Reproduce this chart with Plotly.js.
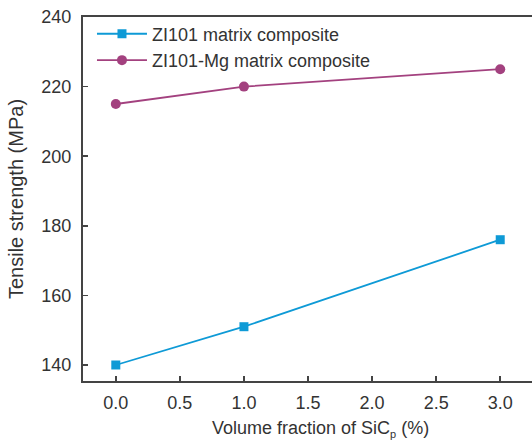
<!DOCTYPE html>
<html><head><meta charset="utf-8">
<script src="https://cdn.plot.ly/plotly-3.0.1.min.js"></script>
<style>body{margin:0;padding:0;}#chart{width:532px;height:442px;}</style>
</head><body><div id="chart"></div>
<script>
const volumeFraction = [0, 1, 3];
const zl101 = [140, 151, 176];
const zl101Mg = [215, 220, 225];
const seriesNames = ["ZI101 matrix composite", "ZI101-Mg matrix composite"];
const xTicks = [0, 0.5, 1, 1.5, 2, 2.5, 3];
const xTickText = ["0.0", "0.5", "1.0", "1.5", "2.0", "2.5", "3.0"];
const yTicks = [140, 160, 180, 200, 220, 240];
const xTitle = "Volume fraction of SiC<sub><span style='font-size:11px'>p</span></sub> (%)";
const yTitle = "Tensile strength (MPa)";

const axisColor = "#444444";
const textColor = "#333333";
const traces = [
  {x: volumeFraction, y: zl101, name: seriesNames[0], mode: "lines+markers",
   line: {color: "#0E9AD6", width: 1.8}, marker: {symbol: "square", size: 9, color: "#0E9AD6"}},
  {x: volumeFraction, y: zl101Mg, name: seriesNames[1], mode: "lines+markers",
   line: {color: "#A3417F", width: 1.8}, marker: {symbol: "circle", size: 10, color: "#A3417F"}}
];
const layout = {
  width: 532, height: 442,
  margin: {l: 83, r: 0, t: 17, b: 61},
  paper_bgcolor: "#fff", plot_bgcolor: "#fff",
  font: {family: "Liberation Sans, Arial, sans-serif", size: 18, color: textColor},
  showlegend: true,
  legend: {x: 0.02, y: 1.004, xanchor: "left", yanchor: "top", bgcolor: "rgba(0,0,0,0)",
           font: {size: 18, color: textColor}, itemwidth: 50, tracegroupgap: 0},
  xaxis: {range: [-0.256, 3.248], tickvals: xTicks, ticktext: xTickText,
          ticks: "inside", ticklen: 5, tickwidth: 1.5, tickcolor: axisColor,
          ticklabelstandoff: 4,
          showline: true, linecolor: axisColor, linewidth: 2, mirror: true,
          showgrid: false, zeroline: false},
  yaxis: {range: [135.4, 240], tickvals: yTicks,
          ticks: "inside", ticklen: 5, tickwidth: 1.5, tickcolor: axisColor,
          ticklabelstandoff: 6,
          showline: true, linecolor: axisColor, linewidth: 2,
          showgrid: false, zeroline: false,
          title: {text: yTitle, standoff: 12, font: {size: 20, color: textColor}}},
  annotations: [
    {text: xTitle, xref: "paper", yref: "paper", x: 0.528, y: -0.095,
     xanchor: "center", yanchor: "top", showarrow: false,
     font: {size: 18, color: textColor}}
  ]
};
Plotly.newPlot("chart", traces, layout, {staticPlot: true, displayModeBar: false});
</script></body></html>
